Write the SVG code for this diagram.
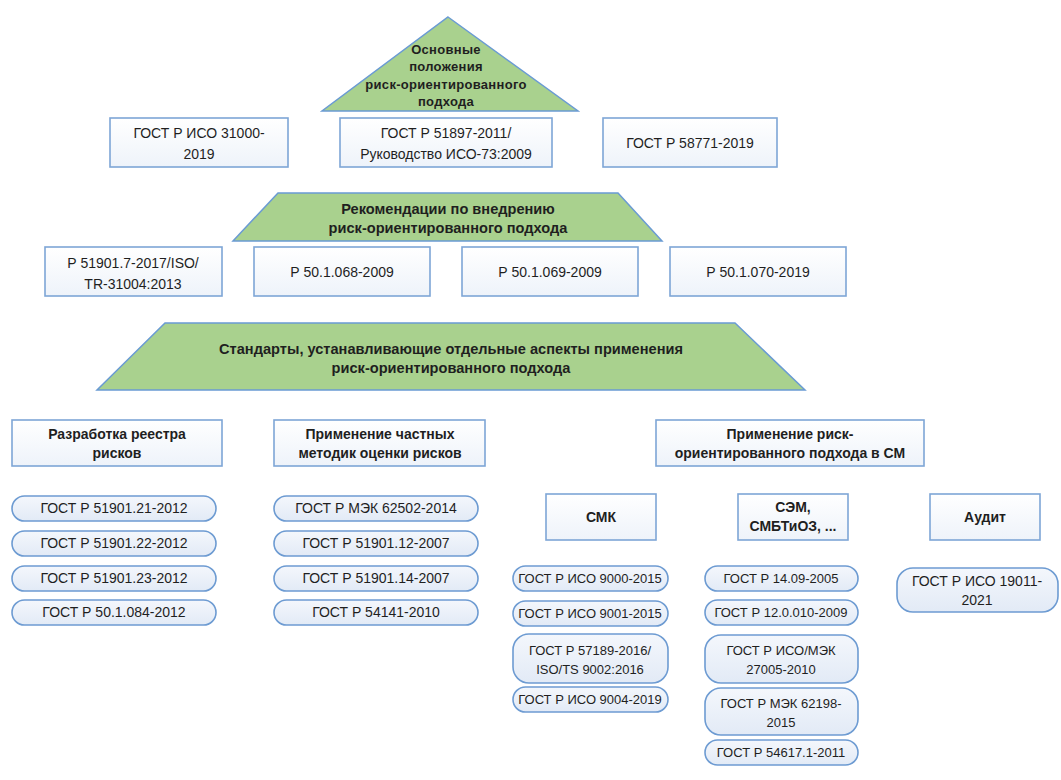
<svg xmlns="http://www.w3.org/2000/svg" width="1061" height="780" viewBox="0 0 1061 780">
<defs>
<linearGradient id="boxg" x1="0" y1="0" x2="0" y2="1">
<stop offset="0" stop-color="#ffffff"/>
<stop offset="1" stop-color="#eef3fa"/>
</linearGradient>
<linearGradient id="pillg" x1="0" y1="0" x2="0" y2="1">
<stop offset="0" stop-color="#f4f7fc"/>
<stop offset="1" stop-color="#e2eaf6"/>
</linearGradient>
<style>
.green{fill:#a9d18e;stroke:#6a9bd3;stroke-width:1.5}
.box{fill:url(#boxg);stroke:#7ea6d6;stroke-width:1.6}
.pill{fill:url(#pillg);stroke:#6d9bd2;stroke-width:1.6}
text{font-family:"Liberation Sans",Arial,sans-serif;fill:#1f1f1f;text-anchor:middle}
.t{font-size:14px}
.n{font-size:13px}
.b{font-size:14px;font-weight:bold}
.h{font-size:14.6px;font-weight:bold}
.s{font-size:13px;font-weight:bold;letter-spacing:0.3px}
</style>
</defs>
<rect width="1061" height="780" fill="#ffffff"/>
<g id="connectors"/>

<g id="top-triangle">
<polygon class="green" points="448,17 578,111 322,111"/>
<text class="s" x="446" y="54">Основные</text>
<text class="s" x="446" y="71">положения</text>
<text class="s" x="446" y="89">риск-ориентированного</text>
<text class="s" x="446" y="106">подхода</text>
</g>

<g id="gost-31000">
<rect class="box" x="110" y="118" width="178" height="49"/>
<text class="t" x="199" y="138">ГОСТ Р ИСО 31000-</text>
<text class="t" x="199" y="159">2019</text>
</g>
<g id="gost-51897">
<rect class="box" x="340" y="118" width="212" height="49"/>
<text class="t" x="446" y="138">ГОСТ Р 51897-2011/</text>
<text class="t" x="446" y="159">Руководство ИСО-73:2009</text>
</g>
<g id="gost-58771">
<rect class="box" x="603" y="118" width="174" height="49"/>
<text class="t" x="690" y="148">ГОСТ Р 58771-2019</text>
</g>

<g id="recommendations">
<polygon class="green" points="278,193 618,193 662,241 233,241"/>
<text class="h" x="448" y="214">Рекомендации по внедрению</text>
<text class="h" x="448" y="233">риск-ориентированного подхода</text>
</g>

<g id="r-51901-7">
<rect class="box" x="45" y="247" width="177" height="49"/>
<text class="t" x="133" y="268">Р 51901.7-2017/ISO/</text>
<text class="t" x="133" y="289">TR-31004:2013</text>
</g>
<g id="r-50-1-068">
<rect class="box" x="254" y="247" width="176" height="49"/>
<text class="t" x="342" y="277">Р 50.1.068-2009</text>
</g>
<g id="r-50-1-069">
<rect class="box" x="462" y="247" width="176" height="49"/>
<text class="t" x="550" y="277">Р 50.1.069-2009</text>
</g>
<g id="r-50-1-070">
<rect class="box" x="670" y="247" width="176" height="49"/>
<text class="t" x="758" y="277">Р 50.1.070-2019</text>
</g>

<g id="standards">
<polygon class="green" points="165,323 735,323 805,390 97,390"/>
<text class="h" x="451" y="354">Стандарты, устанавливающие отдельные аспекты применения</text>
<text class="h" x="451" y="373">риск-ориентированного подхода</text>
</g>

<g id="registry">
<rect class="box" x="12" y="420" width="210" height="46"/>
<text class="b" x="117" y="439">Разработка реестра</text>
<text class="b" x="117" y="458">рисков</text>
</g>
<g id="methods">
<rect class="box" x="274" y="420" width="211" height="46"/>
<text class="b" x="380" y="439">Применение частных</text>
<text class="b" x="380" y="458">методик оценки рисков</text>
</g>
<g id="sm">
<rect class="box" x="656" y="420" width="268" height="46"/>
<text class="b" x="790" y="439">Применение риск-</text>
<text class="b" x="790" y="458">ориентированного подхода в СМ</text>
</g>

<g id="g-51901-21"><rect class="pill" x="12" y="496" width="204" height="25" rx="12.5"/><text class="t" x="114" y="513">ГОСТ Р 51901.21-2012</text></g>
<g id="g-51901-22"><rect class="pill" x="12" y="531" width="204" height="25" rx="12.5"/><text class="t" x="114" y="548">ГОСТ Р 51901.22-2012</text></g>
<g id="g-51901-23"><rect class="pill" x="12" y="566" width="204" height="25" rx="12.5"/><text class="t" x="114" y="583">ГОСТ Р 51901.23-2012</text></g>
<g id="g-50-1-084"><rect class="pill" x="12" y="600" width="204" height="25" rx="12.5"/><text class="t" x="114" y="617">ГОСТ Р 50.1.084-2012</text></g>

<g id="g-62502"><rect class="pill" x="274" y="496" width="204" height="25" rx="12.5"/><text class="t" x="376" y="513">ГОСТ Р МЭК 62502-2014</text></g>
<g id="g-51901-12"><rect class="pill" x="274" y="531" width="204" height="25" rx="12.5"/><text class="t" x="376" y="548">ГОСТ Р 51901.12-2007</text></g>
<g id="g-51901-14"><rect class="pill" x="274" y="566" width="204" height="25" rx="12.5"/><text class="t" x="376" y="583">ГОСТ Р 51901.14-2007</text></g>
<g id="g-54141"><rect class="pill" x="274" y="600" width="204" height="25" rx="12.5"/><text class="t" x="376" y="617">ГОСТ Р 54141-2010</text></g>

<g id="smk">
<rect class="box" x="546" y="494" width="110" height="46"/>
<text class="b" x="601" y="522">СМК</text>
</g>
<g id="sem">
<rect class="box" x="738" y="494" width="110" height="46"/>
<text class="b" x="793" y="512">СЭМ,</text>
<text class="b" x="793" y="531">СМБТиОЗ, ...</text>
</g>
<g id="audit">
<rect class="box" x="930" y="494" width="110" height="46"/>
<text class="b" x="985" y="522">Аудит</text>
</g>

<g id="g-9000"><rect class="pill" x="513" y="566" width="155" height="25" rx="12.5"/><text class="n" x="590" y="583">ГОСТ Р ИСО 9000-2015</text></g>
<g id="g-9001"><rect class="pill" x="513" y="601" width="155" height="25" rx="12.5"/><text class="n" x="590" y="618">ГОСТ Р ИСО 9001-2015</text></g>
<g id="g-57189"><rect class="pill" x="513" y="634" width="155" height="49" rx="16"/><text class="n" x="590" y="655">ГОСТ Р 57189-2016/</text><text class="n" x="590" y="674">ISO/TS 9002:2016</text></g>
<g id="g-9004"><rect class="pill" x="513" y="687" width="155" height="25" rx="12.5"/><text class="n" x="590" y="704">ГОСТ Р ИСО 9004-2019</text></g>

<g id="g-14-09"><rect class="pill" x="705" y="566" width="153" height="25" rx="12.5"/><text class="n" x="781" y="583">ГОСТ Р 14.09-2005</text></g>
<g id="g-12-0-010"><rect class="pill" x="705" y="600" width="153" height="25" rx="12.5"/><text class="n" x="781" y="617">ГОСТ Р 12.0.010-2009</text></g>
<g id="g-27005"><rect class="pill" x="705" y="635" width="153" height="48" rx="16"/><text class="n" x="781" y="655">ГОСТ Р ИСО/МЭК</text><text class="n" x="781" y="674">27005-2010</text></g>
<g id="g-62198"><rect class="pill" x="705" y="688" width="153" height="47" rx="16"/><text class="n" x="781" y="708">ГОСТ Р МЭК 62198-</text><text class="n" x="781" y="727">2015</text></g>
<g id="g-54617"><rect class="pill" x="705" y="740" width="153" height="25" rx="12.5"/><text class="n" x="781" y="757">ГОСТ Р 54617.1-2011</text></g>

<g id="g-19011"><rect class="pill" x="897" y="568" width="161" height="44" rx="16"/><text class="t" x="977" y="586">ГОСТ Р ИСО 19011-</text><text class="t" x="977" y="605">2021</text></g>
</svg>
